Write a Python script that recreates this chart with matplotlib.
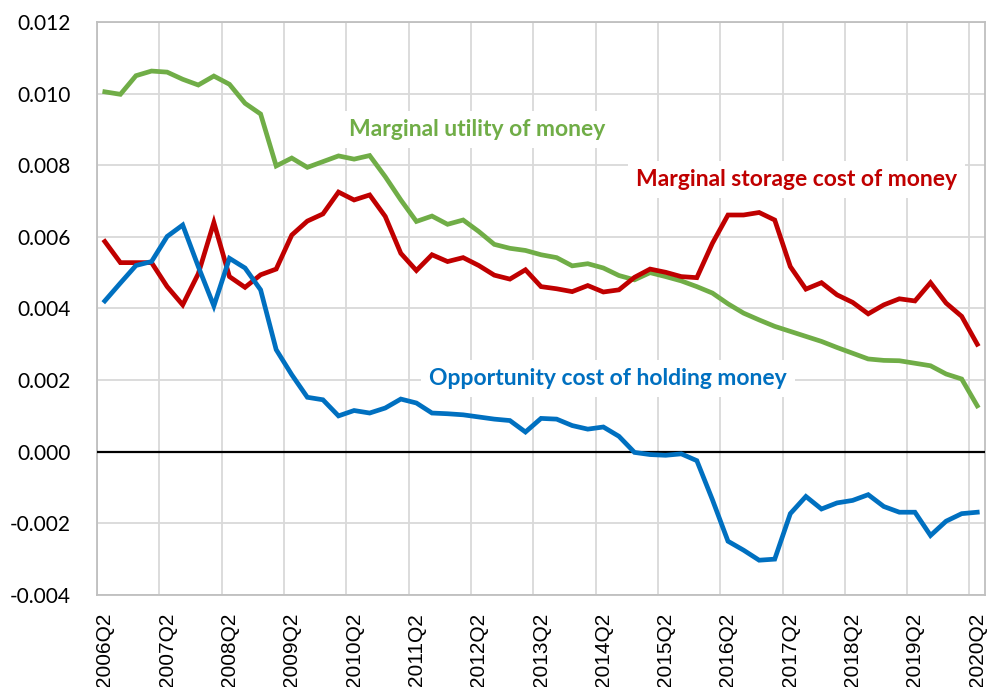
import numpy as np
import matplotlib
matplotlib.use("Agg")
import matplotlib.pyplot as plt

# quarters 2006Q2 .. 2020Q2
quarters = [f"{2006 + (q + 1) // 4}Q{(q + 1) % 4 + 1}" for q in range(57)]
year_labels = [f"{y}Q2" for y in range(2006, 2021)]

utility = [0.01005, 0.00998, 0.0105, 0.01063, 0.0106, 0.0104, 0.01024, 0.01049, 0.01026, 0.00973,
           0.00943, 0.00798, 0.0082, 0.00794, 0.0081, 0.00826, 0.00817, 0.00827, 0.00768, 0.00703,
           0.00643, 0.00658, 0.00635, 0.00647, 0.00615, 0.00579, 0.00568, 0.00562, 0.0055, 0.00542,
           0.00519, 0.00525, 0.00513, 0.00492, 0.0048, 0.005, 0.00489, 0.00477, 0.00461, 0.00443,
           0.00413, 0.00387, 0.00368, 0.0035, 0.00336, 0.00322, 0.00308, 0.00291, 0.00275, 0.00259,
           0.00255, 0.00254, 0.00247, 0.0024, 0.00217, 0.00203, 0.00128]

storage = [0.00587, 0.00528, 0.00528, 0.00528, 0.00461, 0.0041, 0.00497, 0.0064, 0.00489, 0.00459,
           0.00494, 0.0051, 0.00605, 0.00644, 0.00664, 0.00725, 0.00703, 0.00717, 0.00657, 0.00554,
           0.00506, 0.0055, 0.00531, 0.00542, 0.0052, 0.00493, 0.00482, 0.00508, 0.00461, 0.00455,
           0.00447, 0.00464, 0.00446, 0.00452, 0.00487, 0.0051, 0.00501, 0.00489, 0.00486, 0.00582,
           0.00661, 0.00661, 0.00668, 0.00647, 0.00517, 0.00454, 0.00472, 0.00438, 0.00417, 0.00385,
           0.0041, 0.00427, 0.00421, 0.00472, 0.00415, 0.00378, 0.003]

opportunity = [0.00421, 0.00471, 0.0052, 0.00531, 0.00601, 0.00633, 0.00517, 0.00407, 0.0054, 0.00513,
               0.00452, 0.00285, 0.00215, 0.00152, 0.00145, 0.001, 0.00115, 0.00108, 0.00122, 0.00147,
               0.00136, 0.00108, 0.00106, 0.00103, 0.00097, 0.00091, 0.00087, 0.00055, 0.00093, 0.00091,
               0.00073, 0.00063, 0.00069, 0.00043, -0.00002, -0.00008, -0.0001, -0.00006, -0.00025, -0.00134,
               -0.0025, -0.00275, -0.00303, -0.003, -0.00173, -0.00125, -0.0016, -0.00143, -0.00136, -0.0012,
               -0.00153, -0.00169, -0.00169, -0.00234, -0.00194, -0.00173, -0.00169]

green = "#70AD47"
red = "#C00000"
blue = "#0070C0"

fig = plt.figure(figsize=(9.9, 6.87), dpi=100)
ax = fig.add_axes([0.098, 0.134, 0.897, 0.834])

x = np.arange(len(quarters))
ax.plot(x, utility, color=green, lw=3.4, solid_joinstyle="miter", zorder=4)
ax.plot(x, storage, color=red, lw=3.4, solid_joinstyle="miter", zorder=4)
ax.plot(x, opportunity, color=blue, lw=3.4, solid_joinstyle="miter", zorder=4)
ax.axhline(0, color="black", lw=1.6, zorder=3)

ax.set_xlim(-0.5, len(quarters) - 0.5)
ax.set_ylim(-0.004, 0.012)

# labels sit on the category, gridlines on the category boundary
ax.set_xticks(np.arange(0, len(quarters), 4))
ax.set_xticks(np.arange(0, len(quarters), 4) - 0.5, minor=True)
ax.set_xticklabels(year_labels, rotation=90)
for lab in ax.get_xticklabels():
    lab.set_fontfamily("Liberation Sans")
    lab.set_fontsize(15)
yt = np.arange(-0.004, 0.0121, 0.002)
ax.set_yticks(yt)
ax.set_yticklabels([f"{v:.3f}" for v in yt], fontsize=15, family="Lato")
ax.tick_params(which="both", length=0)
ax.tick_params(axis="y", pad=19)
ax.tick_params(axis="x", pad=13)

ax.grid(True, axis="y", color="#D9D9D9", lw=1.3, zorder=0)
ax.grid(True, axis="x", which="minor", color="#D9D9D9", lw=1.3, zorder=0)
for s in ax.spines.values():
    s.set_color("#BFBFBF")
    s.set_linewidth(1.3)

box = dict(facecolor="white", edgecolor="none", pad=6)
ax.text(23.9, 0.0090, "Marginal utility of money", color=green, fontsize=16.5, fontweight="bold",
        family="Lato", ha="center", va="center", bbox=box, zorder=5)
ax.text(44.4, 0.0076, "Marginal storage cost of money", color=red, fontsize=16.5, fontweight="bold",
        family="Lato", ha="center", va="center", bbox=box, zorder=5)
ax.text(32.3, 0.00205, "Opportunity cost of holding money", color=blue, fontsize=16.5, fontweight="bold",
        family="Lato", ha="center", va="center", bbox=box, zorder=5)

fig.savefig("out.png", dpi=100)
